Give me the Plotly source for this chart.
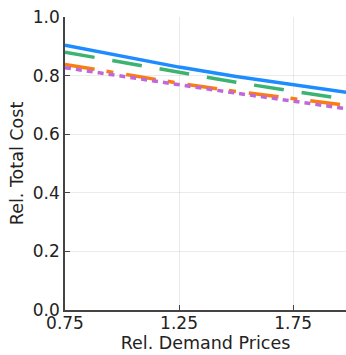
import plotly.graph_objects as go

x_vals = [0.75, 1.0, 1.25, 1.5, 1.75, 2.0]
blue_vals = [0.904, 0.866, 0.829, 0.797, 0.770, 0.741]
green_vals = [0.880, 0.845, 0.810, 0.777, 0.747, 0.717]
orange_vals = [0.838, 0.806, 0.774, 0.746, 0.722, 0.697]
purple_vals = [0.827, 0.797, 0.768, 0.740, 0.713, 0.685]

x_ticks = [0.75, 1.25, 1.75]
x_tick_labels = ["0.75", "1.25", "1.75"]
y_ticks = [0.0, 0.2, 0.4, 0.6, 0.8, 1.0]
y_tick_labels = ["0.0", "0.2", "0.4", "0.6", "0.8", "1.0"]

series = [
    (blue_vals, "#1E8CFF", "solid"),
    (green_vals, "#3CB371", "30px,18px"),
    (orange_vals, "#FA7D12", "30px,12px,7px,13px"),
    (purple_vals, "#C068D8", "6px,5px"),
]

fig = go.Figure()
for vals, color, dash in series:
    fig.add_trace(go.Scatter(x=x_vals, y=vals, mode="lines",
                             line=dict(color=color, width=3.5, dash=dash),
                             showlegend=False))

fig.update_layout(
    width=346, height=355,
    margin=dict(l=65, r=0, t=17, b=45),
    paper_bgcolor="white", plot_bgcolor="white",
    font=dict(family="DejaVu Sans", size=17, color="#222222"),
)
fig.update_xaxes(
    range=[0.75, 1.982], tickvals=x_ticks, ticktext=x_tick_labels,
    tickfont=dict(size=17), ticklabelstandoff=-3,
    showgrid=True, gridcolor="rgba(0,0,0,0.08)", gridwidth=1,
    showline=True, linecolor="#444444", linewidth=1.5,
    ticks="inside", ticklen=5, tickcolor="#444444",
    zeroline=False,
    title=dict(text="Rel. Demand Prices", font=dict(size=17.5), standoff=3),
)
fig.update_yaxes(
    range=[0, 1.0], tickvals=y_ticks, ticktext=y_tick_labels,
    tickfont=dict(size=17),
    showgrid=True, gridcolor="rgba(0,0,0,0.08)", gridwidth=1,
    showline=True, linecolor="#444444", linewidth=1.5,
    ticks="inside", ticklen=5, tickcolor="#444444",
    zeroline=False,
    title=dict(text="Rel. Total Cost", font=dict(size=17.5), standoff=5),
)
fig.write_html("out.html")
